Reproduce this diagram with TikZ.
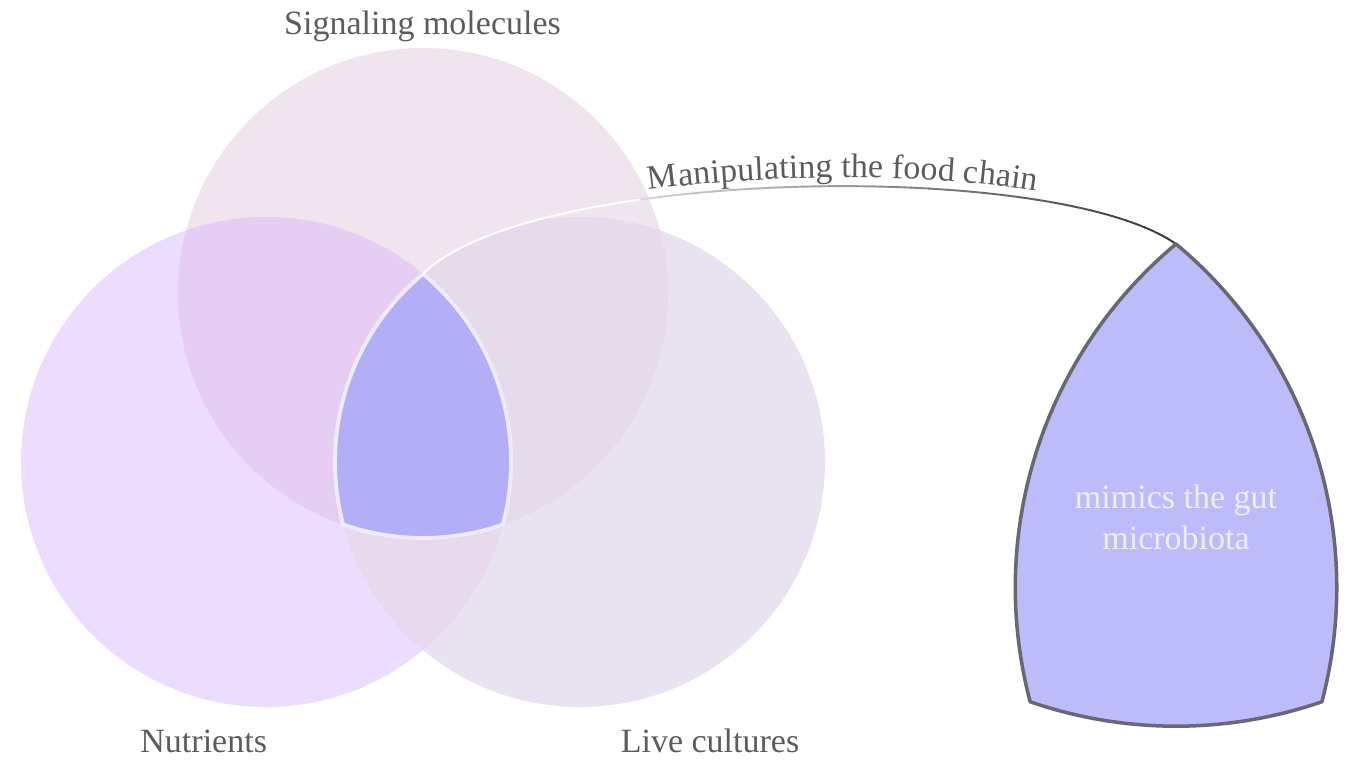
\documentclass[tikz,border=0pt]{standalone}
\usepackage{fontspec}
\setmainfont{Liberation Serif}
\usetikzlibrary{decorations.text}
\definecolor{cT}{RGB}{240,228,238}
\definecolor{cL}{RGB}{236,220,253}
\definecolor{cR}{RGB}{233,226,240}
\definecolor{cTL}{RGB}{229,205,243}
\definecolor{cTR}{RGB}{230,219,234}
\definecolor{cLR}{RGB}{231,218,239}
\definecolor{cC}{RGB}{178,174,247}
\definecolor{cBorder}{RGB}{238,236,250}
\definecolor{cS}{RGB}{188,188,251}
\definecolor{cStroke}{RGB}{104,104,112}
\definecolor{labelgray}{RGB}{92,92,92}
\definecolor{innertext}{RGB}{238,238,255}
\definecolor{lightline}{RGB}{212,212,212}
\definecolor{darkline}{RGB}{55,55,55}
\begin{document}
\begin{tikzpicture}[x=0.02cm,y=0.02cm,
  lbl/.style={inner sep=0pt, anchor=base, text=labelgray, font=\fontsize{19.35pt}{23.2pt}\selectfont},
  inlbl/.style={lbl, text=innertext},
  connline/.style={line width=1.1pt}]
\useasboundingbox (0,0) rectangle (1358,769);
% circles
\fill[cT] (423,476) circle[radius=245];
\fill[cL] (266,307) circle[radius=245];
\fill[cR] (580,307) circle[radius=245];
\begin{scope}
  \clip (423,476) circle[radius=245];
  \fill[cTL] (266,307) circle[radius=245];
  \fill[cTR] (580,307) circle[radius=245];
\end{scope}
\begin{scope}
  \clip (266,307) circle[radius=245];
  \fill[cLR] (580,307) circle[radius=245];
\end{scope}
% central intersection
\coordinate (ctop) at (423,495.09);
\coordinate (rtop) at (1176,525);
\filldraw[fill=cC, draw=cBorder, line width=2.2pt, line join=round]
  (ctop) arc[start angle=129.85, end angle=194.80, radius=245]
         arc[start angle=250.97, end angle=289.03, radius=245]
         arc[start angle=-14.80, end angle=50.15, radius=245] -- cycle;
% connector with gradient
\def\conn{(ctop) .. controls +(45:150) and +(145:150) .. (rtop)}
\begin{scope}
  \clip (0,0) rectangle (646,769);
  \draw[connline, white] \conn;
\end{scope}
\foreach \i in {0,...,29} {
  \pgfmathsetmacro\xa{640+18*\i}
  \pgfmathtruncatemacro\pct{100-\i*100/29}
  \begin{scope}
    \clip (\xa,0) rectangle (\xa+19,769);
    \draw[connline, color=lightline!\pct!darkline] \conn;
  \end{scope}
}
\path[decorate, decoration={text along path,
   text={|\fontsize{19.35pt}{23.2pt}\selectfont|Manipulating the food chain},
   text color=labelgray, text align={left indent=4.85cm}, raise=0.17cm}] \conn;
% magnified shape
\filldraw[fill=cS, draw=cStroke, line width=2pt, line join=round]
  (rtop) arc[start angle=129.85, end angle=194.80, radius=447.4]
         arc[start angle=250.97, end angle=289.03, radius=447.4]
         arc[start angle=-14.80, end angle=50.15, radius=447.4] -- cycle;
% labels
\node[lbl] (sig) at (422.5,734) {Signaling molecules};
\node[lbl] (nut) at (203.7,17) {Nutrients};
\node[lbl] (live) at (710,17) {Live cultures};
\node[inlbl] (mim1) at (1176,261) {mimics the gut};
\node[inlbl] (mim2) at (1176,220) {microbiota};
\end{tikzpicture}
\end{document}
